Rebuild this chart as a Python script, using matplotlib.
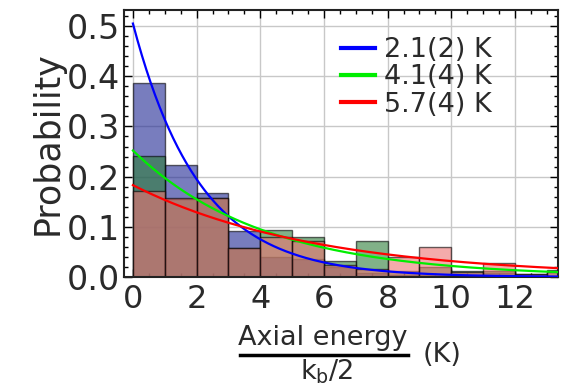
import numpy as np
import matplotlib
matplotlib.use("Agg")
import matplotlib.pyplot as plt
from matplotlib.ticker import MultipleLocator

# ---- data ----
bin_edges = np.arange(0, 15, 1)  # 0..14
blue_probs = [0.387, 0.224, 0.167, 0.092, 0.040, 0.035, 0.020, 0.008, 0.004, 0.003, 0.003, 0.008, 0.003, 0.0]
green_probs = [0.242, 0.155, 0.157, 0.057, 0.093, 0.080, 0.032, 0.071, 0.012, 0.019, 0.012, 0.012, 0.006, 0.013]
red_probs = [0.172, 0.157, 0.158, 0.057, 0.080, 0.071, 0.024, 0.015, 0.040, 0.059, 0.010, 0.027, 0.006, 0.010]

labels = ["2.1(2) K", "4.1(4) K", "5.7(4) K"]
fit_amplitudes = [0.505, 0.252, 0.183]
fit_temperatures = [2.1, 4.1, 5.7]

x_ticks = [0, 2, 4, 6, 8, 10, 12]
y_ticks = [0.0, 0.1, 0.2, 0.3, 0.4, 0.5]

# ---- styles ----
bar_colors = [(30/255, 38/255, 147/255), (45/255, 125/255, 57/255), (238/255, 115/255, 115/255)]
line_colors = ["#0000ff", "#00ee00", "#ff0000"]
text_color = '#2a2a2a'

plt.rcParams['font.family'] = ['DejaVu Sans']
plt.rcParams['mathtext.fontset'] = 'dejavusans'

fig = plt.figure(figsize=(5.61, 3.85), dpi=100)
ax = fig.add_axes([124/561, 1 - 277/385, (558-124)/561, (277-10)/385])

centers = bin_edges[:-1] + 0.5
for probs, col in zip([blue_probs, green_probs, red_probs], bar_colors):
    ax.bar(centers, probs, width=1.0, color=col, alpha=0.6,
           edgecolor=(0, 0, 0, 0.7), linewidth=1.0, zorder=2)

xs = np.linspace(0, 14, 400)
handles = []
for A, T, lc, lab in zip(fit_amplitudes, fit_temperatures, line_colors, labels):
    h, = ax.plot(xs, A * np.exp(-xs / T), color=lc, lw=1.6, label=lab, zorder=3)
    handles.append(h)

ax.set_xlim(-0.28, 13.35)
ax.set_ylim(0, 0.532)
ax.set_xticks(x_ticks)
ax.set_yticks(y_ticks)
ax.set_yticklabels([f"{v:.1f}" for v in y_ticks])
ax.xaxis.set_minor_locator(MultipleLocator(0.5))
ax.yaxis.set_minor_locator(MultipleLocator(0.02))
ax.tick_params(which='both', direction='in', top=True, right=True, width=1, labelcolor=text_color)
ax.tick_params(axis='y', labelsize=24)
ax.tick_params(axis='x', labelsize=23)
ax.tick_params(which='major', length=6, pad=3)
ax.tick_params(which='minor', length=3)
ax.tick_params(axis='x', pad=5)
ax.grid(True, which='major', color='#c8c8c8', lw=1.0, zorder=0)
ax.set_axisbelow(True)
for s in ax.spines.values():
    s.set_linewidth(1.5)
    s.set_color('#222222')

ax.set_ylabel("Probability", fontsize=25, labelpad=1, color=text_color)

leg = ax.legend(handles=handles, loc='upper left', bbox_to_anchor=(341/561, 1 - 37/385),
                bbox_transform=fig.transFigure, frameon=False, fontsize=19.5,
                handlelength=1.25, handletextpad=0.35, labelspacing=0.05,
                borderpad=0, borderaxespad=0)
for line in leg.get_lines():
    line.set_linewidth(3)
for t in leg.get_texts():
    t.set_color(text_color)

# x label as a fraction
fig.text(323/561, 1 - 338/385, "Axial energy", fontsize=19.5, ha='center', va='center', color=text_color)
fig.add_artist(plt.Line2D([240/561, 408/561], [1 - 355/385, 1 - 355/385], color='black', lw=2.5,
                          transform=fig.transFigure))
fig.text(327/561, 1 - 372/385, r"k$_\mathregular{b}$/2", fontsize=19.5, ha='center', va='center', color=text_color)
fig.text(442/561, 1 - 355/385, "(K)", fontsize=19.5, ha='center', va='center', color=text_color)

fig.savefig("out.png", dpi=100)
